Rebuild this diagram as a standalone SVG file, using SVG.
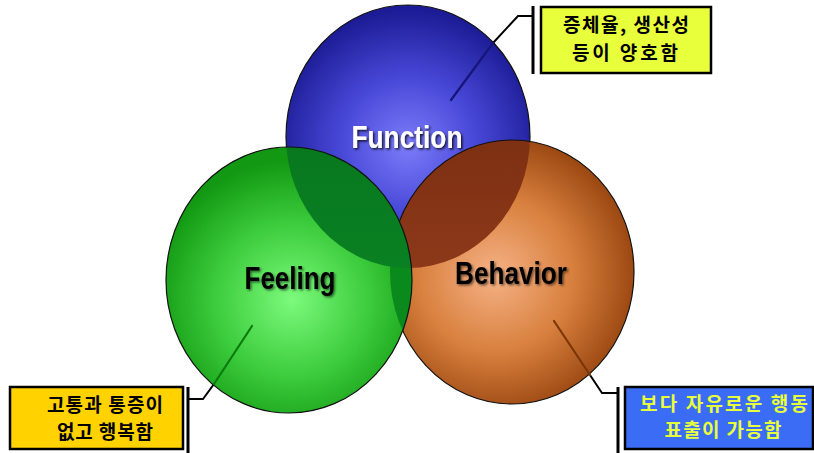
<svg xmlns="http://www.w3.org/2000/svg" width="814" height="453" viewBox="0 0 814 453">
  <defs>
    <style>
      .rim { fill: none; stroke: #111; stroke-width: 1.2; }
      .label { font-family: "Liberation Sans", Arial, sans-serif; font-weight: 700; font-size: 31px; text-anchor: middle; }
      .note { font-family: "Noto Sans CJK KR", "Noto Sans", sans-serif; font-weight: 700; font-size: 19px; text-anchor: middle; }
      .box { stroke: #000; stroke-width: 2.5; }
      .lead { fill: none; stroke: #000; stroke-width: 2; stroke-linejoin: miter; }
      .bar { stroke: #000; stroke-width: 3; }
      .inner { fill: none; stroke-width: 2.2; stroke-linecap: round; }
    </style>
    <radialGradient id="gBlue" gradientUnits="userSpaceOnUse" cx="408" cy="145" r="135">
      <stop offset="0" stop-color="#7c7cfa"/>
      <stop offset="0.5" stop-color="#4848d8"/>
      <stop offset="1" stop-color="#1c1c96"/>
    </radialGradient>
    <radialGradient id="gGreen" gradientUnits="userSpaceOnUse" cx="292" cy="300" r="140">
      <stop offset="0" stop-color="#7cfa7c"/>
      <stop offset="0.55" stop-color="#3ccc3c"/>
      <stop offset="1" stop-color="#129812"/>
    </radialGradient>
    <radialGradient id="gOrange" gradientUnits="userSpaceOnUse" cx="495" cy="275" r="140">
      <stop offset="0" stop-color="#f6b286"/>
      <stop offset="0.55" stop-color="#d8803e"/>
      <stop offset="1" stop-color="#9c4812"/>
    </radialGradient>
    <linearGradient id="gBlueOrange" x1="0" y1="0" x2="0" y2="1">
      <stop offset="0" stop-color="#7e3012"/>
      <stop offset="1" stop-color="#9a4220"/>
    </linearGradient>
    <linearGradient id="gBlueGreen" x1="0" y1="0" x2="0" y2="1">
      <stop offset="0" stop-color="#08781e"/>
      <stop offset="1" stop-color="#0b8a28"/>
    </linearGradient>
    <clipPath id="clipBlue"><ellipse cx="408" cy="136.5" rx="122" ry="131.5"/></clipPath>
    <clipPath id="clipOrange"><ellipse cx="512" cy="272" rx="122" ry="132"/></clipPath>
    <filter id="softShadow" x="-20%" y="-30%" width="140%" height="160%">
      <feDropShadow dx="1.5" dy="1.5" stdDeviation="1" flood-color="#000" flood-opacity="0.55"/>
    </filter>
    <filter id="darkShadow" x="-20%" y="-30%" width="140%" height="160%">
      <feDropShadow dx="1.5" dy="1.5" stdDeviation="1" flood-color="#000" flood-opacity="0.8"/>
    </filter>
  </defs>

  <!-- Function circle -->
  <g id="function">
    <ellipse cx="408" cy="136.5" rx="122" ry="131.5" fill="url(#gBlue)"/>
    <ellipse class="rim" cx="408" cy="136.5" rx="122" ry="131.5"/>
  </g>

  <!-- Behavior circle, tinted where it meets Function -->
  <g id="behavior">
    <ellipse cx="512" cy="272" rx="122" ry="132" fill="url(#gOrange)"/>
    <ellipse cx="512" cy="272" rx="122" ry="132" fill="url(#gBlueOrange)" clip-path="url(#clipBlue)"/>
    <ellipse class="rim" cx="512" cy="272" rx="122" ry="132"/>
  </g>

  <!-- Feeling circle, tinted where it meets the others -->
  <g id="feeling">
    <ellipse cx="289" cy="280" rx="123" ry="133" fill="url(#gGreen)"/>
    <ellipse cx="289" cy="280" rx="123" ry="133" fill="#0a8a1c" clip-path="url(#clipOrange)"/>
    <ellipse cx="289" cy="280" rx="123" ry="133" fill="url(#gBlueGreen)" clip-path="url(#clipBlue)"/>
    <ellipse class="rim" cx="289" cy="280" rx="123" ry="133"/>
  </g>

  <!-- circle captions -->
  <g id="captions">
    <text class="label" x="407" y="148" fill="#fff" filter="url(#darkShadow)" textLength="111" lengthAdjust="spacingAndGlyphs">Function</text>
    <text class="label" x="290" y="289" fill="#000" font-size="30" filter="url(#softShadow)" textLength="91" lengthAdjust="spacingAndGlyphs">Feeling</text>
    <text class="label" x="511" y="284" fill="#000" filter="url(#softShadow)" textLength="112" lengthAdjust="spacingAndGlyphs">Behavior</text>
  </g>

  <!-- leader lines from callouts into circles -->
  <g id="connectors">
    <line class="bar" x1="533" y1="6" x2="533" y2="74"/>
    <polyline class="lead" points="533,16 518,16 493,43"/>
    <line class="inner" x1="493" y1="43" x2="451" y2="100" stroke="#15157a"/>

    <line class="bar" x1="188" y1="387" x2="188" y2="453"/>
    <polyline class="lead" points="188,399 203,399 214,384"/>
    <line class="inner" x1="214" y1="384" x2="252" y2="326" stroke="#0c7a0c"/>

    <line class="bar" x1="618" y1="387" x2="618" y2="453"/>
    <polyline class="lead" points="618,393 602,393 590,375"/>
    <line class="inner" x1="590" y1="375" x2="554" y2="321" stroke="#7a3608"/>
  </g>

  <!-- callout boxes -->
  <g id="note-function">
    <rect class="box" x="541" y="7" width="170" height="66" fill="#e8ff3c"/>
    <text class="note" x="626" y="32" fill="#000" textLength="126" lengthAdjust="spacing">증체율, 생산성</text>
    <text class="note" x="625" y="60" fill="#000" textLength="106" lengthAdjust="spacing">등이 양호함</text>
  </g>

  <g id="note-feeling">
    <rect class="box" x="10" y="387" width="173" height="62" fill="#ffd200"/>
    <text class="note" x="105" y="412" fill="#000" textLength="116" lengthAdjust="spacing">고통과 통증이</text>
    <text class="note" x="105" y="439" fill="#000" textLength="96" lengthAdjust="spacing">없고 행복함</text>
  </g>

  <g id="note-behavior">
    <rect class="box" x="625" y="387" width="188" height="62" fill="#3a6cf6"/>
    <text class="note" x="724" y="411" fill="#e8ff3c" textLength="168" lengthAdjust="spacing">보다 자유로운 행동</text>
    <text class="note" x="723" y="437" fill="#e8ff3c" textLength="117" lengthAdjust="spacing">표출이 가능함</text>
  </g>
</svg>
